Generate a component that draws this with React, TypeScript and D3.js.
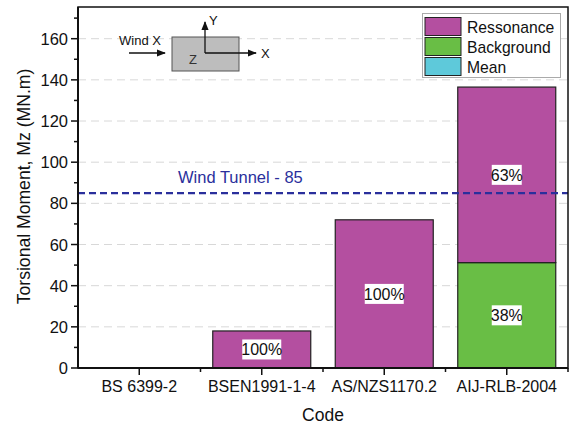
import React from "react";
import * as d3 from "d3";

const codes = ["BS 6399-2", "BSEN1991-1-4", "AS/NZS1170.2", "AIJ-RLB-2004"];
const meanValues = [0, 0, 0, 0];
const backgroundValues = [0, 0, 0, 51.2];
const resonanceValues = [0, 18, 72, 85.3];
const resonanceLabels = ["", "100%", "100%", "63%"];
const backgroundLabels = ["", "", "", "38%"];
const windTunnel = 85;
const yTicks = [0, 20, 40, 60, 80, 100, 120, 140, 160];

const W = 569;
const H = 429;
const M = { left: 78, right: 568, top: 7, bottom: 368 };
const FONT = "Liberation Sans, Arial, sans-serif";

const seriesDefs = [
  { key: "Ressonance", color: "#b44fa0" },
  { key: "Background", color: "#69be45" },
  { key: "Mean", color: "#5ec9da" },
];

export default function App() {
  const x = d3.scaleBand<string>().domain(codes).range([M.left, M.right]).paddingInner(0.2).paddingOuter(0.1);
  const band = d3.scaleBand<string>().domain(codes).range([M.left, M.right]);
  const y = d3.scaleLinear().domain([0, 175.4]).range([M.bottom, M.top]);
  const minor = d3.range(10, 175, 20);

  const rows = codes.map((c, i) => ({
    code: c,
    Mean: meanValues[i],
    Background: backgroundValues[i],
    Ressonance: resonanceValues[i],
  }));
  const stack = d3.stack<any>().keys(["Mean", "Background", "Ressonance"])(rows);
  const colorOf: Record<string, string> = {};
  seriesDefs.forEach((s) => (colorOf[s.key] = s.color));

  const labelBox = (cx: number, cy: number, text: string, k: string) => {
    if (!text) return null;
    const w = text.length * 9 + 3;
    return (
      <g key={k}>
        <rect x={cx - w / 2} y={cy - 10} width={w} height={20} fill="#fff" />
        <text x={cx} y={cy + 6} textAnchor="middle" fontSize={16} fill="#111">{text}</text>
      </g>
    );
  };

  return (
    <svg width={W} height={H} style={{ position: "absolute", left: 0, top: 0 }} fontFamily={FONT}>
      <rect width={W} height={H} fill="#fff" />
      {/* grid */}
      {yTicks.slice(1).map((t) => (
        <line key={"g" + t} x1={M.left} x2={M.right} y1={y(t)} y2={y(t)} stroke="#d8d8d8" strokeWidth={1} strokeDasharray="8,5" />
      ))}
      {/* bars */}
      {stack.map((s) =>
        s.map((d, i) =>
          d[1] - d[0] > 0 ? (
            <rect key={s.key + i} x={x(codes[i])} y={y(d[1])} width={x.bandwidth()} height={y(d[0]) - y(d[1])}
              fill={colorOf[s.key]} stroke="#222" strokeWidth={1.2} />
          ) : null
        )
      )}
      {/* value labels */}
      {codes.map((c, i) => {
        const cx = (x(c) as number) + x.bandwidth() / 2;
        const b0 = meanValues[i];
        const b1 = b0 + backgroundValues[i];
        const r1 = b1 + resonanceValues[i];
        return (
          <g key={"l" + c}>
            {labelBox(cx, y((b0 + b1) / 2), backgroundLabels[i], "b" + i)}
            {labelBox(cx, y((b1 + r1) / 2), resonanceLabels[i], "r" + i)}
          </g>
        );
      })}
      {/* wind tunnel reference */}
      <line x1={M.left} x2={M.right} y1={y(windTunnel)} y2={y(windTunnel)} stroke="#2a2f9c" strokeWidth={2.2} strokeDasharray="7,4" />
      <text x={178} y={y(windTunnel) - 10} fontSize={16.5} fill="#2a2f9c">Wind Tunnel - {windTunnel}</text>
      {/* frame */}
      <rect x={M.left} y={M.top} width={M.right - M.left} height={M.bottom - M.top} fill="none" stroke="#111" strokeWidth={1.5} />
      {/* y axis */}
      <line x1={M.left} x2={M.left} y1={M.top} y2={M.bottom} stroke="#111" strokeWidth={2} />
      {yTicks.map((t) => (
        <g key={"y" + t}>
          <line x1={M.left - 7} x2={M.left} y1={y(t)} y2={y(t)} stroke="#111" strokeWidth={1.5} />
          <text x={M.left - 10} y={y(t) + 6} textAnchor="end" fontSize={16.5} fill="#111">{t}</text>
        </g>
      ))}
      {minor.map((t) => (
        <line key={"m" + t} x1={M.left - 4} x2={M.left} y1={y(t)} y2={y(t)} stroke="#111" strokeWidth={1.5} />
      ))}
      {/* x axis */}
      <line x1={M.left} x2={M.right} y1={M.bottom} y2={M.bottom} stroke="#111" strokeWidth={2} />
      {codes.map((c) => {
        const cx = (band(c) as number) + band.bandwidth() / 2;
        return (
          <g key={"x" + c}>
            <line x1={cx} x2={cx} y1={M.bottom} y2={M.bottom + 7} stroke="#111" strokeWidth={1.5} />
            <line x1={(band(c) as number) + band.bandwidth()} x2={(band(c) as number) + band.bandwidth()} y1={M.bottom} y2={M.bottom + 4} stroke="#111" strokeWidth={1.5} />
            <text x={cx} y={M.bottom + 24} textAnchor="middle" fontSize={16} fill="#111">{c}</text>
          </g>
        );
      })}
      {/* axis titles */}
      <text x={323} y={421} textAnchor="middle" fontSize={17.5} fill="#111">Code</text>
      <text transform={`translate(30,186.5) rotate(-90)`} textAnchor="middle" fontSize={17.6} fill="#111">
        Torsional Moment, Mz (MN.m)
      </text>
      {/* legend */}
      <rect x={422.5} y={13.5} width={138} height={64} fill="#fff" stroke="#aaa" strokeWidth={1} />
      {seriesDefs.map((s, i) => (
        <g key={"lg" + s.key}>
          <rect x={425} y={17.5 + i * 20} width={36} height={18} fill={s.color} stroke="#222" strokeWidth={1} />
          <text x={467} y={32.5 + i * 20} fontSize={15.7} fill="#111">{s.key}</text>
        </g>
      ))}
      {/* axis orientation sketch */}
      <defs>
        <marker id="ah" viewBox="0 0 10 10" refX="9" refY="5" markerWidth="7" markerHeight="7" orient="auto-start-reverse">
          <path d="M0,1 L10,5 L0,9 z" fill="#111" />
        </marker>
      </defs>
      <rect x={172} y={37} width={67} height={34} fill="#bdbdbd" stroke="#555" strokeWidth={1} />
      <text x={119} y={45} fontSize={13} fill="#111">Wind X</text>
      <line x1={129} x2={165} y1={53} y2={53} stroke="#111" strokeWidth={1.3} markerEnd="url(#ah)" />
      <text x={189} y={64} fontSize={13} fill="#333">Z</text>
      <line x1={205} x2={205} y1={53} y2={22} stroke="#111" strokeWidth={1.3} markerEnd="url(#ah)" />
      <line x1={205} x2={256} y1={53} y2={53} stroke="#111" strokeWidth={1.3} markerEnd="url(#ah)" />
      <text x={209} y={25} fontSize={13} fill="#111">Y</text>
      <text x={261} y={58} fontSize={13} fill="#111">X</text>
    </svg>
  );
}
